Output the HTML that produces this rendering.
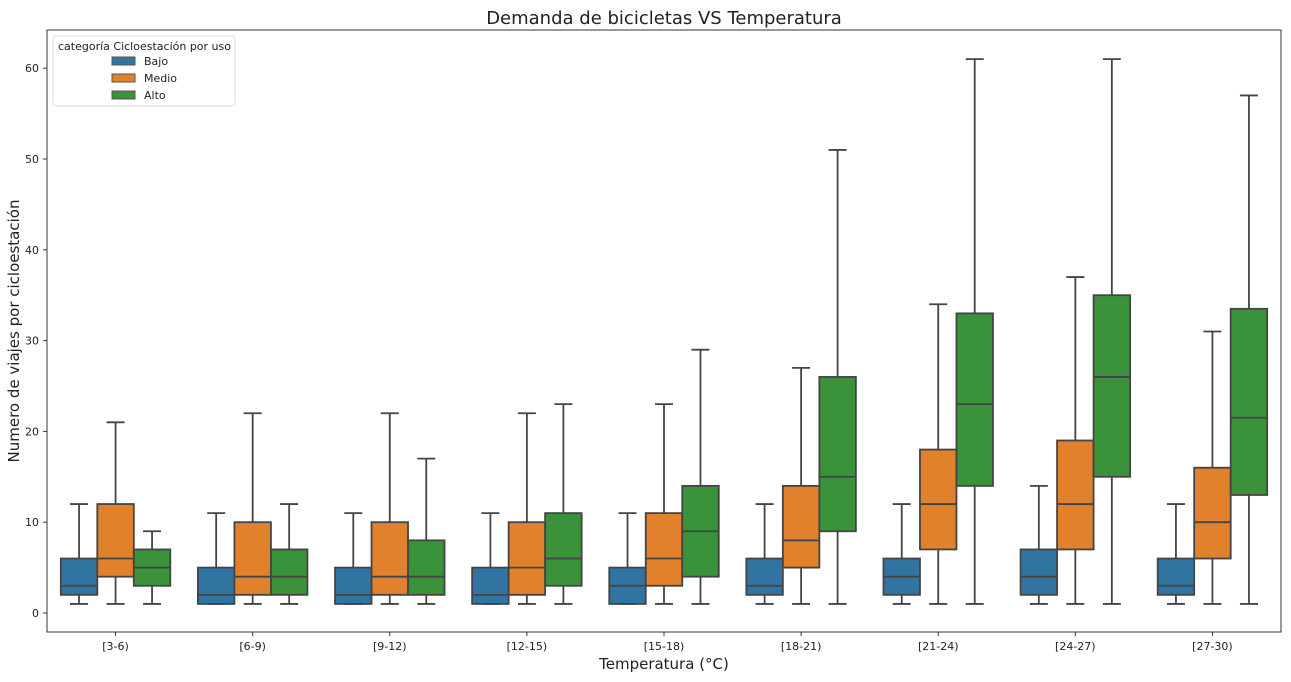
<!DOCTYPE html>
<html><head><meta charset="utf-8"><style>
body{margin:0;background:#fff;font-family:"Liberation Sans","DejaVu Sans",sans-serif}
svg text{font-family:"DejaVu Sans","Liberation Sans",sans-serif}
</style></head><body>
<svg id="chart" width="1291" height="677">
<rect width="1291" height="677" fill="#fff"/>
<text x="664" y="24" font-size="18" text-anchor="middle" fill="#222">Demanda de bicicletas VS Temperatura</text>
<text x="664" y="669" font-size="15" text-anchor="middle" fill="#222">Temperatura (°C)</text>
<text transform="translate(19,331) rotate(-90)" font-size="15" text-anchor="middle" fill="#222">Numero de viajes por cicloestación</text>
<g id="plot"></g>
<rect x="47" y="30" width="1234" height="602" fill="none" stroke="#333" stroke-width="1"/>
<g>
<rect x="53" y="36" width="182" height="70" rx="3" fill="#fff" stroke="#ddd"/>
<text x="58" y="50" font-size="11" fill="#222">categoría Cicloestación por uso</text>
<g><rect x="112" y="57" width="23" height="8" fill="#3274a1" stroke="#555"/><text x="144" y="65" font-size="11" fill="#222">Bajo</text></g>
<g><rect x="112" y="74" width="23" height="8" fill="#e1812c" stroke="#555"/><text x="144" y="82" font-size="11" fill="#222">Medio</text></g>
<g><rect x="112" y="91" width="23" height="8" fill="#3a923a" stroke="#555"/><text x="144" y="99" font-size="11" fill="#222">Alto</text></g>
</g>
</svg>
<script>
const categories=["[3-6)","[6-9)","[9-12)","[12-15)","[15-18)","[18-21)","[21-24)","[24-27)","[27-30)"];
const yTicks=[0,10,20,30,40,50,60];
const seriesNames=["Bajo","Medio","Alto"];
const bajo=[[1,2,3,6,12],[1,1,2,5,11],[1,1,2,5,11],[1,1,2,5,11],[1,1,3,5,11],[1,2,3,6,12],[1,2,4,6,12],[1,2,4,7,14],[1,2,3,6,12]];
const medio=[[1,4,6,12,21],[1,2,4,10,22],[1,2,4,10,22],[1,2,5,10,22],[1,3,6,11,23],[1,5,8,14,27],[1,7,12,18,34],[1,7,12,19,37],[1,6,10,16,31]];
const alto=[[1,3,5,7,9],[1,2,4,7,12],[1,2,4,8,17],[1,3,6,11,23],[1,4,9,14,29],[1,9,15,26,51],[1,14,23,33,61],[1,15,26,35,61],[1,13,21.5,33.5,57]];
const colors=["#3274a1","#e1812c","#3a923a"];
const L=47,R=1281,Y0=613,PX=9.08;
const y=v=>Y0-v*PX;
const bw=(R-L)/categories.length;
const xc=i=>L+(i+0.5)*bw;
const NS="http://www.w3.org/2000/svg";
const g=document.getElementById('plot');
function mk(t,a,p){const e=document.createElementNS(NS,t);for(const k in a)e.setAttribute(k,a[k]);(p||g).appendChild(e);return e;}
yTicks.forEach(v=>{
 const gt=mk('g',{});
 
 
 mk('line',{x1:L-4,x2:L,y1:y(v),y2:y(v),stroke:'#333'},gt);
 const t=mk('text',{x:L-8,y:y(v)+4,'font-size':11,'text-anchor':'end',fill:'#222'},gt);t.textContent=v;
});
categories.forEach((c,i)=>{
 const gt=mk('g',{});
 
 
 mk('line',{x1:xc(i),x2:xc(i),y1:632,y2:636,stroke:'#333'},gt);
 const t=mk('text',{x:xc(i),y:650,'font-size':11,'text-anchor':'middle',fill:'#222'},gt);t.textContent=c;
});
const series=[bajo,medio,alto];
const boxW=36.5;
series.forEach((s,si)=>{
 s.forEach((d,i)=>{
  const cx=xc(i)+(si-1)*boxW;
  const bg=mk('g',{});
  
  
  const st={stroke:'#444','stroke-width':1.8};
  mk('line',Object.assign({x1:cx,x2:cx,y1:y(d[0]),y2:y(d[1])},st),bg);
  mk('line',Object.assign({x1:cx,x2:cx,y1:y(d[3]),y2:y(d[4])},st),bg);
  mk('line',Object.assign({x1:cx-9,x2:cx+9,y1:y(d[0]),y2:y(d[0])},st),bg);
  mk('line',Object.assign({x1:cx-9,x2:cx+9,y1:y(d[4]),y2:y(d[4])},st),bg);
  mk('rect',Object.assign({x:cx-boxW/2,y:y(d[3]),width:boxW,height:y(d[1])-y(d[3]),fill:colors[si]},st),bg);
  mk('line',Object.assign({x1:cx-boxW/2,x2:cx+boxW/2,y1:y(d[2]),y2:y(d[2])},st),bg);
 });
});
</script>
</body></html>
